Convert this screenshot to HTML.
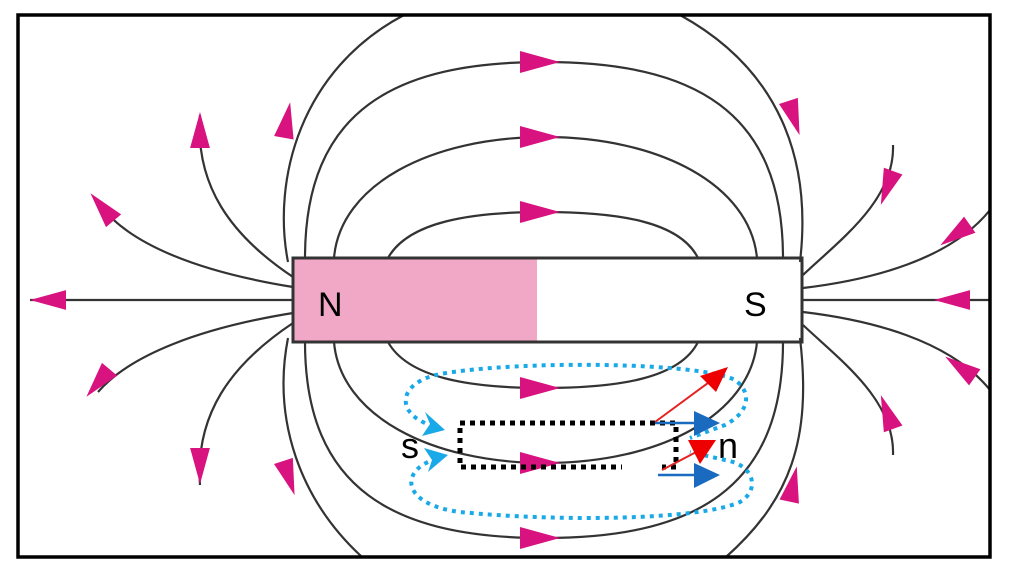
<!DOCTYPE html>
<html><head><style>html,body{margin:0;padding:0;background:#fff}svg{display:block}</style></head>
<body>
<svg width="1011" height="568" viewBox="0 0 1011 568" xmlns="http://www.w3.org/2000/svg">
<defs>
<polygon id="ar" points="20,0 -20,-11 -20,11" fill="#d8127f"/>
</defs>
<rect x="0" y="0" width="1011" height="568" fill="#fff"/>
<g fill="none" stroke="#333" stroke-width="2.2">
<!-- top loops -->
<path d="M388,258 C408,222 470,212 543,212 C620,212 680,222 698,258"/>
<path d="M334,258 C340,185 430,137 545,137 C660,137 750,185 757,258"/>
<path d="M305,258 C305,110 395,62 544,62 C693,62 783,110 783,258"/>
<path d="M288,262 C272,180 300,70 404,15"/>
<path d="M800,262 C812,160 780,70 680,15"/>
<!-- bottom loops -->
<path d="M388,342 C408,378 470,388 543,388 C620,388 680,378 698,342"/>
<path d="M334,342 C340,415 430,463 545,463 C660,463 750,415 757,342"/>
<path d="M305,342 C305,490 395,538 544,538 C693,538 783,490 783,342"/>
<path d="M288,338 C272,420 300,500 362,557"/>
<path d="M800,338 C812,440 790,500 726,557"/>
<!-- left -->
<path d="M293,300 L30,300"/>
<path d="M293,287 C200,272 130,245 100,205"/>
<path d="M293,277 C230,235 195,185 200,115"/>
<path d="M293,313 C200,328 130,355 98,392"/>
<path d="M293,323 C230,365 195,415 200,485"/>
<!-- right -->
<path d="M893,145 C895,200 840,240 803,275"/>
<path d="M990,210 C950,260 870,280 803,288"/>
<path d="M990,300 L803,300"/>
<path d="M990,390 C950,340 870,320 803,312"/>
<path d="M893,455 C895,400 840,360 803,325"/>
</g>
<!-- magnet -->
<rect x="293" y="258" width="244" height="84" fill="#f0a8c6"/>
<rect x="293" y="258" width="509" height="84" fill="none" stroke="#333" stroke-width="3"/>
<text x="318" y="316" font-family="Liberation Sans, sans-serif" font-size="34">N</text>
<text x="744" y="316" font-family="Liberation Sans, sans-serif" font-size="34">S</text>
<!-- arrows -->
<use href="#ar" transform="translate(540,62)"/>
<use href="#ar" transform="translate(540,137)"/>
<use href="#ar" transform="translate(540,212)"/>
<use href="#ar" transform="translate(540,388)"/>
<use href="#ar" transform="translate(540,463)"/>
<use href="#ar" transform="translate(540,538)"/>
<use href="#ar" transform="translate(48,300) rotate(180) scale(0.9)"/>
<use href="#ar" transform="translate(102,207) rotate(-130) scale(0.9)"/>
<use href="#ar" transform="translate(200,130) rotate(-90) scale(0.9)"/>
<use href="#ar" transform="translate(98,383) rotate(130) scale(0.9)"/>
<use href="#ar" transform="translate(200,466) rotate(90) scale(0.9)"/>
<use href="#ar" transform="translate(287,120) rotate(-80) scale(0.9)"/>
<use href="#ar" transform="translate(289,478) rotate(72) scale(0.9)"/>
<use href="#ar" transform="translate(794,118) rotate(72) scale(0.9)"/>
<use href="#ar" transform="translate(887,188) rotate(110) scale(0.9)"/>
<use href="#ar" transform="translate(955,235) rotate(145) scale(0.9)"/>
<use href="#ar" transform="translate(952,300) rotate(180) scale(0.9)"/>
<use href="#ar" transform="translate(960,367) rotate(-145) scale(0.9)"/>
<use href="#ar" transform="translate(887,412) rotate(-110) scale(0.9)"/>
<use href="#ar" transform="translate(793,484) rotate(-78) scale(0.9)"/>
<!-- small magnet / dotted rect -->
<rect x="460" y="423" width="216" height="44" fill="none" stroke="#000" stroke-width="5" stroke-dasharray="5 5"/>
<rect x="622" y="462" width="40" height="30" fill="#fff"/>
<text x="401" y="458" font-family="Liberation Sans, sans-serif" font-size="36">s</text>
<text x="718" y="458" font-family="Liberation Sans, sans-serif" font-size="36">n</text>
<!-- blue loops -->
<g fill="none" stroke="#1aa9e8" stroke-width="4" stroke-dasharray="4 5">
<path d="M425,423 C395,410 400,382 440,374 C520,360 700,362 735,380 C752,392 750,412 725,425 L690,438"/>
<path d="M428,462 C400,475 405,505 460,512 C560,522 700,520 740,502 C760,490 755,465 725,460 L690,452"/>
</g>
<polygon points="445,430 425,412 430,424 422,436" fill="#1aa9e8"/>
<polygon points="448,455 424,448 432,460 428,472" fill="#1aa9e8"/>
<!-- red & blue vector arrows -->
<line x1="655" y1="422" x2="712" y2="380" stroke="#e52222" stroke-width="2"/>
<polygon points="728,367 700,376 716,392" fill="#ee0000"/>
<line x1="662" y1="470" x2="700" y2="450" stroke="#e52222" stroke-width="2"/>
<polygon points="700,464 688,440 716,440" fill="#ee0000"/>
<line x1="655" y1="423" x2="700" y2="423" stroke="#1a6bc0" stroke-width="2.5"/>
<polygon points="720,423 694,411 694,436" fill="#1a6bc0"/>
<line x1="658" y1="475" x2="700" y2="475" stroke="#1a6bc0" stroke-width="2.5"/>
<polygon points="720,475 694,463 694,488" fill="#1a6bc0"/>
<!-- frame -->
<rect x="18" y="15" width="972" height="542" fill="none" stroke="#000" stroke-width="3.5"/>
</svg>
</body></html>
